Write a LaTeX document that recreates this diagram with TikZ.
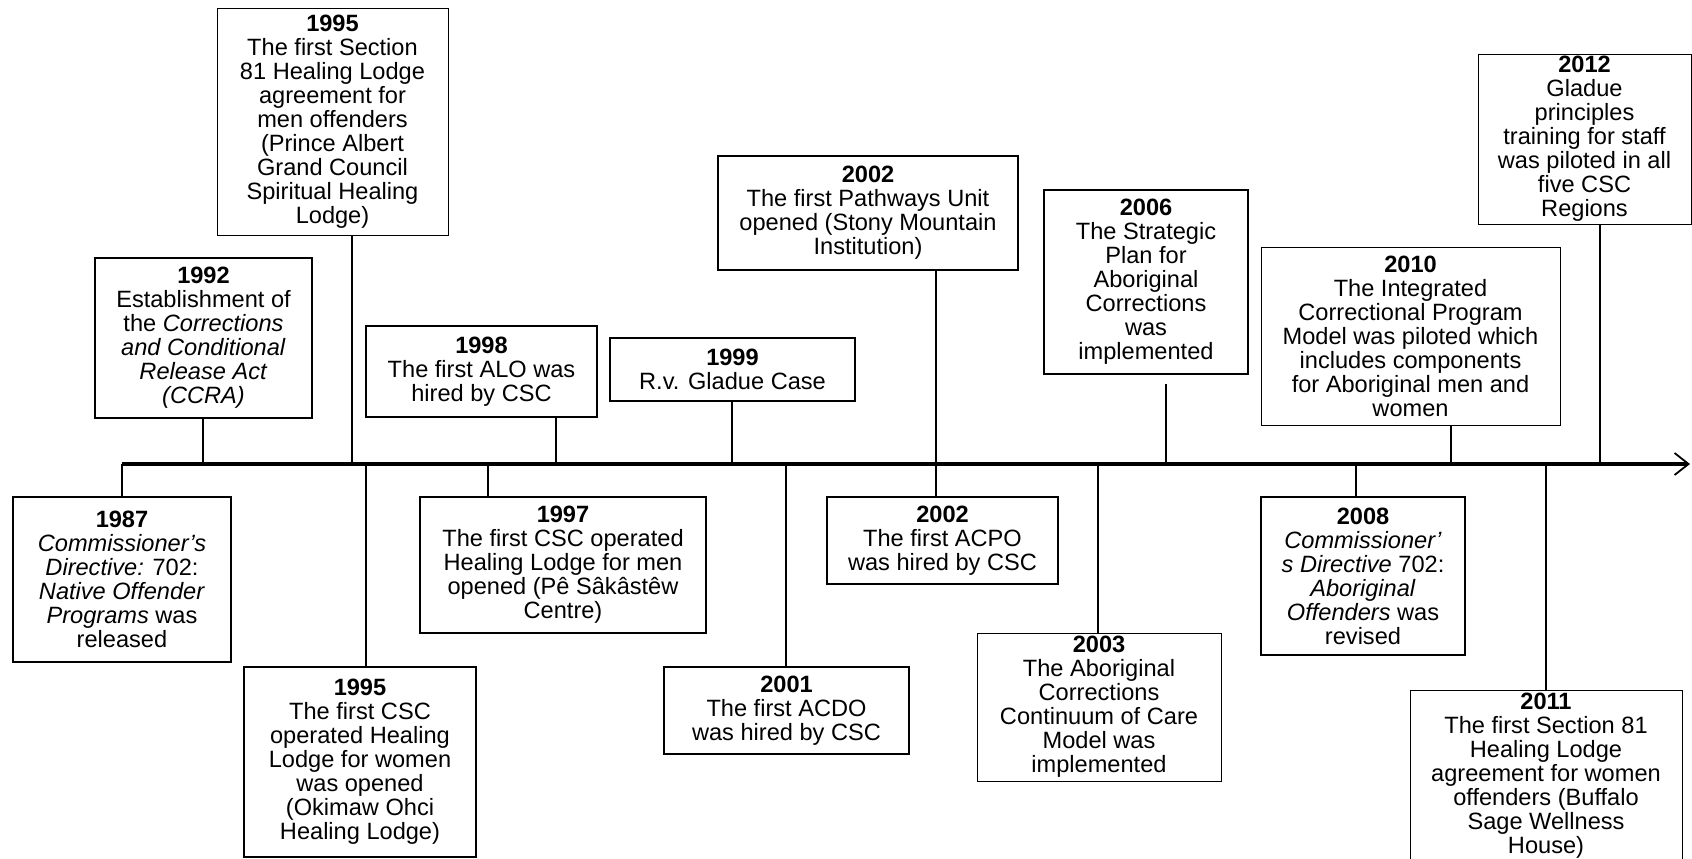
\documentclass[tikz,border=0pt]{standalone}
\usepackage{fontspec}
\setmainfont{Liberation Sans}
\usetikzlibrary{arrows.meta}

\tikzset{
  evbox/.style={draw, line width=0.9pt, align=center, inner sep=1pt,
    font=\fontsize{11.8}{12}\selectfont},
  evthin/.style={evbox, line width=0.5pt},
  stem/.style={line width=1.3pt},
}

\begin{document}
\begin{tikzpicture}[x=0.5pt,y=-0.5pt]
\useasboundingbox (0,0) rectangle (1692,858);

% the time line
\coordinate (tl0) at (122,464);
\coordinate (tl1) at (1690,464);
\draw[line width=1.6pt,-{Straight Barb[length=7pt,width=11pt,line width=0.9pt]}] (tl0) -- (tl1);

% events above the line
\node[evthin, minimum width=115.5pt, minimum height=113.5pt] (y1995a) at (332.5,121.5)
  {\textbf{1995}\\The first Section\\81 Healing Lodge\\agreement for\\men offenders\\(Prince Albert\\Grand Council\\Spiritual Healing\\Lodge)};
\node[evbox, minimum width=108.5pt, minimum height=80pt] (y1992) at (203.5,338)
  {\textbf{1992}\\Establishment of\\the \textit{Corrections}\\\textit{and Conditional}\\\textit{Release Act}\\\textit{(CCRA)}};
\node[evbox, minimum width=115.5pt, minimum height=45.5pt] (y1998) at (481.5,371.5)
  {\textbf{1998}\\The first ALO was\\hired by CSC};
\node[evbox, minimum width=122.5pt, minimum height=31.5pt] (y1999) at (732.5,369.5)
  {\textbf{1999}\\R.v. Gladue Case};
\node[evbox, minimum width=150pt, minimum height=57pt] (y2002a) at (868,213)
  {\textbf{2002}\\The first Pathways Unit\\opened (Stony Mountain\\Institution)};
\node[evbox, minimum width=102pt, minimum height=92pt] (y2006) at (1146,282)
  {\textbf{2006}\\The Strategic\\Plan for\\Aboriginal\\Corrections\\was\\implemented};
\node[evthin, minimum width=149.5pt, minimum height=89pt] (y2010) at (1410.5,336)
  {\textbf{2010}\\The Integrated\\Correctional Program\\Model was piloted which\\includes components\\for Aboriginal men and\\women};
\node[evthin, minimum width=106.5pt, minimum height=85pt] (y2012) at (1584.5,139)
  {\textbf{2012}\\Gladue\\principles\\training for staff\\was piloted in all\\five CSC\\Regions};

% events below the line
\node[evbox, minimum width=109pt, minimum height=82.5pt] (y1987) at (122,579.5)
  {\textbf{1987}\\\textit{Commissioner’s}\\\textit{Directive:} 702:\\\textit{Native Offender}\\\textit{Programs} was\\released};
\node[evbox, minimum width=116pt, minimum height=95pt] (y1995b) at (360,762)
  {\textbf{1995}\\The first CSC\\operated Healing\\Lodge for women\\was opened\\(Okimaw Ohci\\Healing Lodge)};
\node[evbox, minimum width=143pt, minimum height=68pt] (y1997) at (563,565)
  {\textbf{1997}\\The first CSC operated\\Healing Lodge for men\\opened (Pê Sâkâstêw\\Centre)};
\node[evbox, minimum width=122.5pt, minimum height=43.5pt] (y2001) at (786.5,710.5)
  {\textbf{2001}\\The first ACDO\\was hired by CSC};
\node[evbox, minimum width=115.5pt, minimum height=43.5pt] (y2002b) at (942.5,540.5)
  {\textbf{2002}\\The first ACPO\\was hired by CSC};
\node[evthin, minimum width=122pt, minimum height=74pt] (y2003) at (1099,707)
  {\textbf{2003}\\The Aboriginal\\Corrections\\Continuum of Care\\Model was\\implemented};
\node[evbox, minimum width=102pt, minimum height=79pt] (y2008) at (1363,576)
  {\textbf{2008}\\\textit{Commissioner’}\\\textit{s Directive} 702:\\\textit{Aboriginal}\\\textit{Offenders} was\\revised};
\node[evthin, minimum width=136pt, minimum height=86pt] (y2011) at (1546,776)
  {\textbf{2011}\\The first Section 81\\Healing Lodge\\agreement for women\\offenders (Buffalo\\Sage Wellness\\House)};

% ticks on the line
\coordinate (t1995a) at (352,464);
\coordinate (t1992) at (203,464);
\coordinate (t1998) at (556,464);
\coordinate (t1999) at (732,464);
\coordinate (t2002a) at (936,464);
\coordinate (t2006) at (1166,464);
\coordinate (t2010) at (1451,464);
\coordinate (t2012) at (1600,464);
\coordinate (t1995b) at (366,464);
\coordinate (t1997) at (488,464);
\coordinate (t2001) at (786,464);
\coordinate (t2003) at (1098,464);
\coordinate (t2008) at (1356,464);
\coordinate (t2011) at (1546,464);

% stems
\draw[stem] (t1995a) -- (t1995a |- y1995a.south);
\draw[stem] (t1992) -- (t1992 |- y1992.south);
\draw[stem] (t1998) -- (t1998 |- y1998.south);
\draw[stem] (t1999) -- (t1999 |- y1999.south);
\draw[stem] (t2002a) -- (t2002a |- y2002a.south);
\draw[stem, shorten >=4.5pt] (t2006) -- (t2006 |- y2006.south);
\draw[stem] (t2010) -- (t2010 |- y2010.south);
\draw[stem] (t2012) -- (t2012 |- y2012.south);
\draw[stem] (tl0) -- (tl0 |- y1987.north);
\draw[stem] (t1995b) -- (t1995b |- y1995b.north);
\draw[stem] (t1997) -- (t1997 |- y1997.north);
\draw[stem] (t2001) -- (t2001 |- y2001.north);
\draw[stem] (t2002a) -- (t2002a |- y2002b.north);
\draw[stem] (t2003) -- (t2003 |- y2003.north);
\draw[stem] (t2008) -- (t2008 |- y2008.north);
\draw[stem] (t2011) -- (t2011 |- y2011.north);

\end{tikzpicture}
\end{document}
